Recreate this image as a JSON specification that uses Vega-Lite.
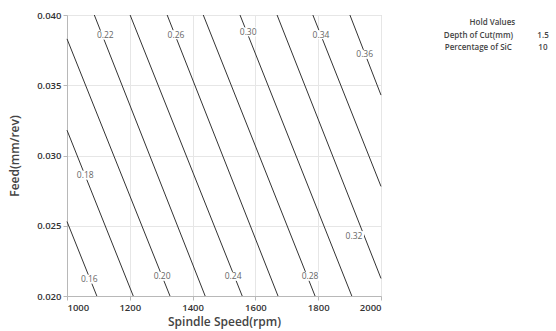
{
  "$schema": "https://vega.github.io/schema/vega-lite/v6.json",
  "width": 314,
  "height": 281,
  "autosize": {"type": "none"},
  "padding": {"left": 67, "top": 15, "right": 175, "bottom": 35},
  "background": "white",
  "config": {
    "view": {"stroke": "#c8c8c8", "strokeWidth": 1},
    "font": "Open Sans",
    "axis": {
      "gridColor": "#e6e6e6",
      "domainColor": "#b8b8b8",
      "tickColor": "#b8b8b8",
      "tickSize": 4,
      "labelFont": "Open Sans",
      "labelFontSize": 9.5,
      "labelFontWeight": 600,
      "labelColor": "#333333",
      "labelPadding": 2,
      "titleFont": "Open Sans",
      "titleFontSize": 12,
      "titleFontWeight": 600,
      "titleColor": "#444444"
    }
  },
  "datasets": {
    "lines": [
      {"level": "0.16", "pt": 0, "rpm": 1000, "feed": 0.0253},
      {"level": "0.16", "pt": 1, "rpm": 1095, "feed": 0.02},
      {"level": "0.18", "pt": 0, "rpm": 1000, "feed": 0.0318},
      {"level": "0.18", "pt": 1, "rpm": 1211, "feed": 0.02},
      {"level": "0.20", "pt": 0, "rpm": 1000, "feed": 0.0383},
      {"level": "0.20", "pt": 1, "rpm": 1328, "feed": 0.02},
      {"level": "0.22", "pt": 0, "rpm": 1087, "feed": 0.04},
      {"level": "0.22", "pt": 1, "rpm": 1440, "feed": 0.02},
      {"level": "0.24", "pt": 0, "rpm": 1201, "feed": 0.04},
      {"level": "0.24", "pt": 1, "rpm": 1558, "feed": 0.02},
      {"level": "0.26", "pt": 0, "rpm": 1319, "feed": 0.04},
      {"level": "0.26", "pt": 1, "rpm": 1672, "feed": 0.02},
      {"level": "0.28", "pt": 0, "rpm": 1434, "feed": 0.04},
      {"level": "0.28", "pt": 1, "rpm": 1790, "feed": 0.02},
      {"level": "0.30", "pt": 0, "rpm": 1551, "feed": 0.04},
      {"level": "0.30", "pt": 1, "rpm": 1907, "feed": 0.02},
      {"level": "0.32", "pt": 0, "rpm": 1669, "feed": 0.04},
      {"level": "0.32", "pt": 1, "rpm": 2000, "feed": 0.02125},
      {"level": "0.34", "pt": 0, "rpm": 1783, "feed": 0.04},
      {"level": "0.34", "pt": 1, "rpm": 2000, "feed": 0.0278},
      {"level": "0.36", "pt": 0, "rpm": 1901, "feed": 0.04},
      {"level": "0.36", "pt": 1, "rpm": 2000, "feed": 0.0343}
    ],
    "labels": [
      {"label": "0.16", "rpm": 1071, "feed": 0.0212},
      {"label": "0.18", "rpm": 1058, "feed": 0.0286},
      {"label": "0.20", "rpm": 1303, "feed": 0.0214},
      {"label": "0.22", "rpm": 1122, "feed": 0.03857},
      {"label": "0.24", "rpm": 1529, "feed": 0.0214},
      {"label": "0.26", "rpm": 1347, "feed": 0.0386},
      {"label": "0.28", "rpm": 1774, "feed": 0.0214},
      {"label": "0.30", "rpm": 1577, "feed": 0.0388},
      {"label": "0.32", "rpm": 1914, "feed": 0.0243},
      {"label": "0.34", "rpm": 1809, "feed": 0.0386},
      {"label": "0.36", "rpm": 1948, "feed": 0.0372}
    ],
    "hold": [
      {"text": "Hold Values", "rpm": 2282, "feed": 0.03943},
      {"text": "Depth of Cut(mm)", "rpm": 2200, "feed": 0.0385},
      {"text": "1.5", "rpm": 2498, "feed": 0.0385},
      {"text": "Percentage of SiC", "rpm": 2203, "feed": 0.03765},
      {"text": "10", "rpm": 2501, "feed": 0.03765}
    ]
  },
  "layer": [
    {
      "data": {"name": "lines"},
      "mark": {"type": "line", "color": "#333333", "strokeWidth": 1},
      "encoding": {
        "x": {"field": "rpm", "type": "quantitative", "scale": {"domain": [1000, 2000], "nice": false, "zero": false},
              "axis": {"values": [1000, 1200, 1400, 1600, 1800, 2000], "format": "d", "title": "Spindle Speed(rpm)", "titlePadding": 5}},
        "y": {"field": "feed", "type": "quantitative", "scale": {"domain": [0.02, 0.04], "nice": false, "zero": false},
              "axis": {"values": [0.02, 0.025, 0.03, 0.035, 0.04], "format": ".3f", "title": "Feed(mm/rev)", "titlePadding": 15}},
        "detail": {"field": "level"},
        "order": {"field": "pt"}
      }
    },
    {
      "data": {"name": "labels"},
      "mark": {"type": "point", "shape": "M-1,-0.45L1,-0.45L1,0.45L-1,0.45Z", "filled": true, "color": "white", "opacity": 1, "size": 400},
      "encoding": {
        "x": {"field": "rpm", "type": "quantitative"},
        "y": {"field": "feed", "type": "quantitative"}
      }
    },
    {
      "data": {"name": "labels"},
      "mark": {"type": "text", "font": "Open Sans", "fontSize": 8.5, "color": "#666666"},
      "encoding": {
        "x": {"field": "rpm", "type": "quantitative"},
        "y": {"field": "feed", "type": "quantitative"},
        "text": {"field": "label"}
      }
    },
    {
      "data": {"name": "hold"},
      "mark": {"type": "text", "font": "Open Sans", "fontSize": 8, "fontWeight": 600, "color": "#444444", "align": "left", "baseline": "middle"},
      "encoding": {
        "x": {"field": "rpm", "type": "quantitative"},
        "y": {"field": "feed", "type": "quantitative"},
        "text": {"field": "text"}
      }
    }
  ]
}
